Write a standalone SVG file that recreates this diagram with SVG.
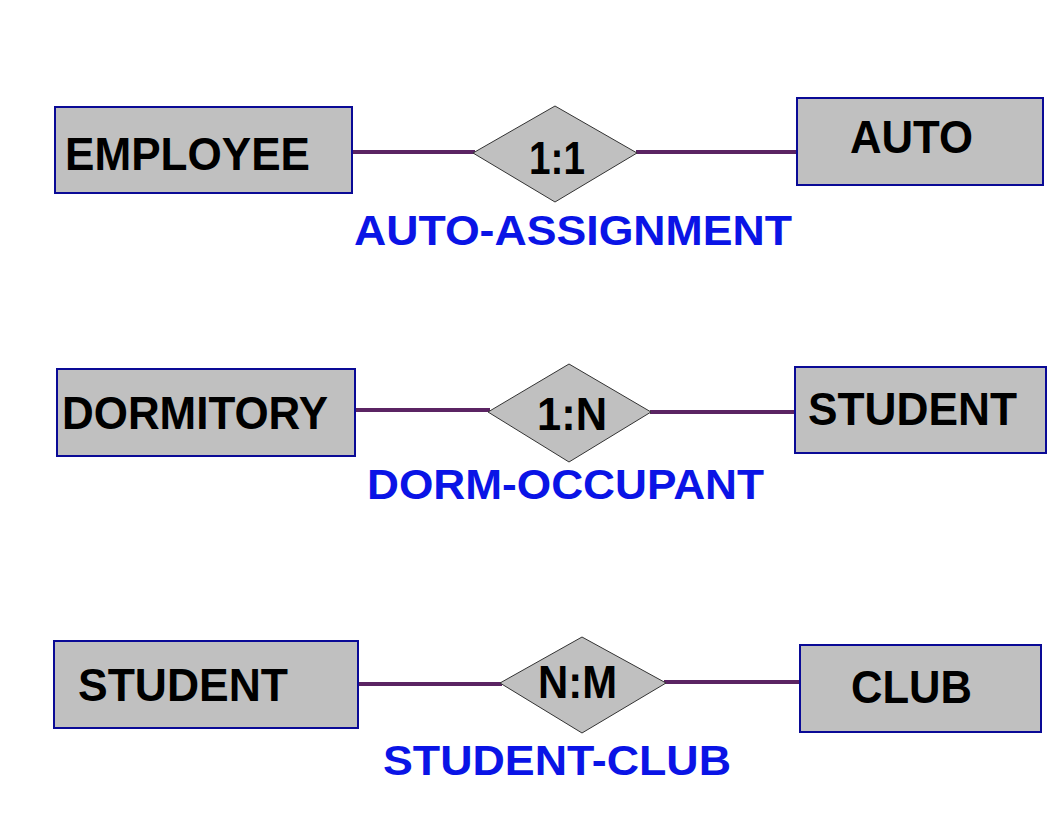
<svg xmlns="http://www.w3.org/2000/svg" width="1056" height="816" viewBox="0 0 1056 816">
<style>
.ent{fill:#c0c0c0;stroke:#0a0a96;stroke-width:2}
.rel{fill:#c0c0c0;stroke:#333;stroke-width:1}
.conn{stroke:#5b2463;stroke-width:4;fill:none}
.t{font-family:"Liberation Sans",Arial,sans-serif;font-weight:bold;font-size:46px;fill:#000}
.lbl{font-family:"Liberation Sans",Arial,sans-serif;font-weight:bold;font-size:43px;fill:#0a14e6}
</style>
<rect width="1056" height="816" fill="#fff"/>
<g id="connectors">
<line class="conn" x1="348" y1="152" x2="475" y2="152"/>
<line class="conn" x1="636" y1="152" x2="798" y2="152"/>
<line class="conn" x1="355" y1="410" x2="490" y2="410"/>
<line class="conn" x1="650" y1="412" x2="796" y2="412"/>
<line class="conn" x1="358" y1="684" x2="502" y2="684"/>
<line class="conn" x1="664" y1="682" x2="800" y2="682"/>
</g>
<g id="employee"><rect class="ent" x="55" y="107" width="297" height="86"/><text class="t" x="65" y="170" textLength="245" lengthAdjust="spacingAndGlyphs">EMPLOYEE</text></g>
<g id="auto-assignment"><polygon class="rel" points="555,106 637,153 555,202 473,153"/><text class="t" x="529" y="174" textLength="56" lengthAdjust="spacingAndGlyphs">1:1</text><text class="lbl" x="354" y="245" textLength="438" lengthAdjust="spacingAndGlyphs">AUTO-ASSIGNMENT</text></g>
<g id="auto"><rect class="ent" x="797" y="98" width="246" height="87"/><text class="t" x="850" y="153" textLength="123" lengthAdjust="spacingAndGlyphs">AUTO</text></g>
<g id="dormitory"><rect class="ent" x="57" y="369" width="298" height="87"/><text class="t" x="62" y="429" textLength="266" lengthAdjust="spacingAndGlyphs">DORMITORY</text></g>
<g id="dorm-occupant"><polygon class="rel" points="569,364 651,412 569,462 488,412"/><text class="t" x="537" y="430" textLength="70" lengthAdjust="spacingAndGlyphs">1:N</text><text class="lbl" x="367" y="499" textLength="397" lengthAdjust="spacingAndGlyphs">DORM-OCCUPANT</text></g>
<g id="student1"><rect class="ent" x="795" y="367" width="251" height="86"/><text class="t" x="808" y="425" textLength="209" lengthAdjust="spacingAndGlyphs">STUDENT</text></g>
<g id="student2"><rect class="ent" x="54" y="641" width="304" height="87"/><text class="t" x="78" y="701" textLength="210" lengthAdjust="spacingAndGlyphs">STUDENT</text></g>
<g id="student-club"><polygon class="rel" points="582,637 666,683 582,733 500,683"/><text class="t" x="538" y="698" textLength="79" lengthAdjust="spacingAndGlyphs">N:M</text><text class="lbl" x="383" y="775" textLength="348" lengthAdjust="spacingAndGlyphs">STUDENT-CLUB</text></g>
<g id="club"><rect class="ent" x="800" y="645" width="241" height="87"/><text class="t" x="851" y="703" textLength="121" lengthAdjust="spacingAndGlyphs">CLUB</text></g>
</svg>
